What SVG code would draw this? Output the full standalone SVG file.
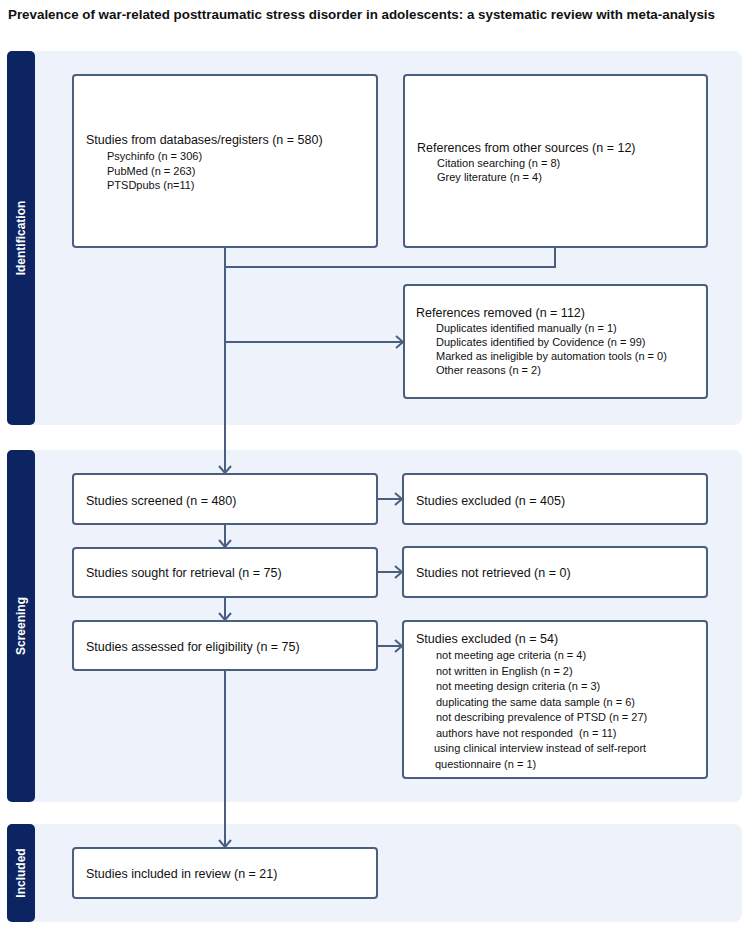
<svg xmlns="http://www.w3.org/2000/svg" width="750" height="930" viewBox="0 0 750 930">
<style>
.panel{fill:#eef3fb}
.band{fill:#0c2461}
.box{fill:#ffffff;stroke:#4a5f80;stroke-width:2}
.t{font-family:"Liberation Sans",Arial,sans-serif;font-size:12.5px;fill:#111}
.s{font-family:"Liberation Sans",Arial,sans-serif;font-size:11px;fill:#111}
.lab{font-family:"Liberation Sans",Arial,sans-serif;font-size:12px;font-weight:bold;fill:#fff}
.title{font-family:"Liberation Sans",Arial,sans-serif;font-size:13px;font-weight:bold;fill:#111}
.c{fill:none;stroke:#4a5f80;stroke-width:2}
</style>
<defs>
<marker id="arr" markerUnits="userSpaceOnUse" markerWidth="12" markerHeight="14" refX="9" refY="7" orient="auto">
<path d="M2,1 L9,7 L2,13" fill="none" stroke="#4a5f80" stroke-width="2"/>
</marker>
</defs>
<rect width="750" height="930" fill="#fff"/>
<text class="title" x="8" y="19" textLength="707" lengthAdjust="spacingAndGlyphs">Prevalence of war-related posttraumatic stress disorder in adolescents: a systematic review with meta-analysis</text>

<g id="phase-identification">
<rect class="panel" x="7" y="51" width="735" height="374" rx="8"/>
<rect class="band" x="7" y="51" width="28" height="374" rx="5"/>
<text class="lab" transform="translate(25,238) rotate(-90)" text-anchor="middle">Identification</text>
</g>
<g id="phase-screening">
<rect class="panel" x="7" y="450" width="735" height="352" rx="8"/>
<rect class="band" x="7" y="450" width="28" height="352" rx="5"/>
<text class="lab" transform="translate(25,626) rotate(-90)" text-anchor="middle">Screening</text>
</g>
<g id="phase-included">
<rect class="panel" x="7" y="824" width="735" height="98" rx="8"/>
<rect class="band" x="7" y="824" width="28" height="98" rx="5"/>
<text class="lab" transform="translate(25,873) rotate(-90)" text-anchor="middle">Included</text>
</g>

<g id="connectors">
<path class="c" d="M225,247 V473" marker-end="url(#arr)"/>
<path class="c" d="M555,247 V267 H225"/>
<path class="c" d="M225,342 H403" marker-end="url(#arr)"/>
<path class="c" d="M377,499 H402" marker-end="url(#arr)"/>
<path class="c" d="M225,524 V547" marker-end="url(#arr)"/>
<path class="c" d="M377,572 H402" marker-end="url(#arr)"/>
<path class="c" d="M225,597 V620" marker-end="url(#arr)"/>
<path class="c" d="M377,646 H402" marker-end="url(#arr)"/>
<path class="c" d="M225,670 V847" marker-end="url(#arr)"/>
</g>

<g id="databases">
<rect class="box" x="73" y="75" width="304" height="172" rx="3"/>
<text class="t" x="86" y="144">Studies from databases/registers (n = 580)</text>
<text class="s" x="107" y="160">Psychinfo (n = 306)</text>
<text class="s" x="107" y="174.5">PubMed (n = 263)</text>
<text class="s" x="107" y="189">PTSDpubs (n=11)</text>
</g>
<g id="other-sources">
<rect class="box" x="404" y="75" width="303" height="172" rx="3"/>
<text class="t" x="417" y="152">References from other sources (n = 12)</text>
<text class="s" x="437" y="167">Citation searching (n = 8)</text>
<text class="s" x="437" y="181">Grey literature (n = 4)</text>
</g>
<g id="removed">
<rect class="box" x="404" y="285" width="303" height="113" rx="3"/>
<text class="t" x="416" y="317">References removed (n = 112)</text>
<text class="s" x="436" y="332">Duplicates identified manually (n = 1)</text>
<text class="s" x="436" y="346">Duplicates identified by Covidence (n = 99)</text>
<text class="s" x="436" y="360">Marked as ineligible by automation tools (n = 0)</text>
<text class="s" x="436" y="374">Other reasons (n = 2)</text>
</g>
<g id="screened">
<rect class="box" x="73" y="474" width="304" height="50" rx="3"/>
<text class="t" x="86" y="505">Studies screened (n = 480)</text>
</g>
<g id="excluded-405">
<rect class="box" x="403" y="474" width="304" height="50" rx="3"/>
<text class="t" x="416" y="505">Studies excluded (n = 405)</text>
</g>
<g id="sought">
<rect class="box" x="73" y="548" width="304" height="49" rx="3"/>
<text class="t" x="86" y="577">Studies sought for retrieval (n = 75)</text>
</g>
<g id="not-retrieved">
<rect class="box" x="403" y="547" width="304" height="50" rx="3"/>
<text class="t" x="416" y="577">Studies not retrieved (n = 0)</text>
</g>
<g id="assessed">
<rect class="box" x="73" y="621" width="304" height="49" rx="3"/>
<text class="t" x="86" y="651">Studies assessed for eligibility (n = 75)</text>
</g>
<g id="excluded-54">
<rect class="box" x="403" y="621" width="304" height="157" rx="3"/>
<text class="t" x="416" y="643">Studies excluded (n = 54)</text>
<text class="s" x="436" y="659">not meeting age criteria (n = 4)</text>
<text class="s" x="436" y="674.5">not written in English (n = 2)</text>
<text class="s" x="436" y="690">not meeting design criteria (n = 3)</text>
<text class="s" x="436" y="705.5">duplicating the same data sample (n = 6)</text>
<text class="s" x="436" y="721">not describing prevalence of PTSD (n = 27)</text>
<text class="s" x="436" y="736.5">authors have not responded&#160; (n = 11)</text>
<text class="s" x="434" y="752">using clinical interview instead of self-report</text>
<text class="s" x="435" y="767.5">questionnaire (n = 1)</text>
</g>
<g id="included">
<rect class="box" x="73" y="848" width="304" height="50" rx="3"/>
<text class="t" x="86" y="878">Studies included in review (n = 21)</text>
</g>
</svg>
